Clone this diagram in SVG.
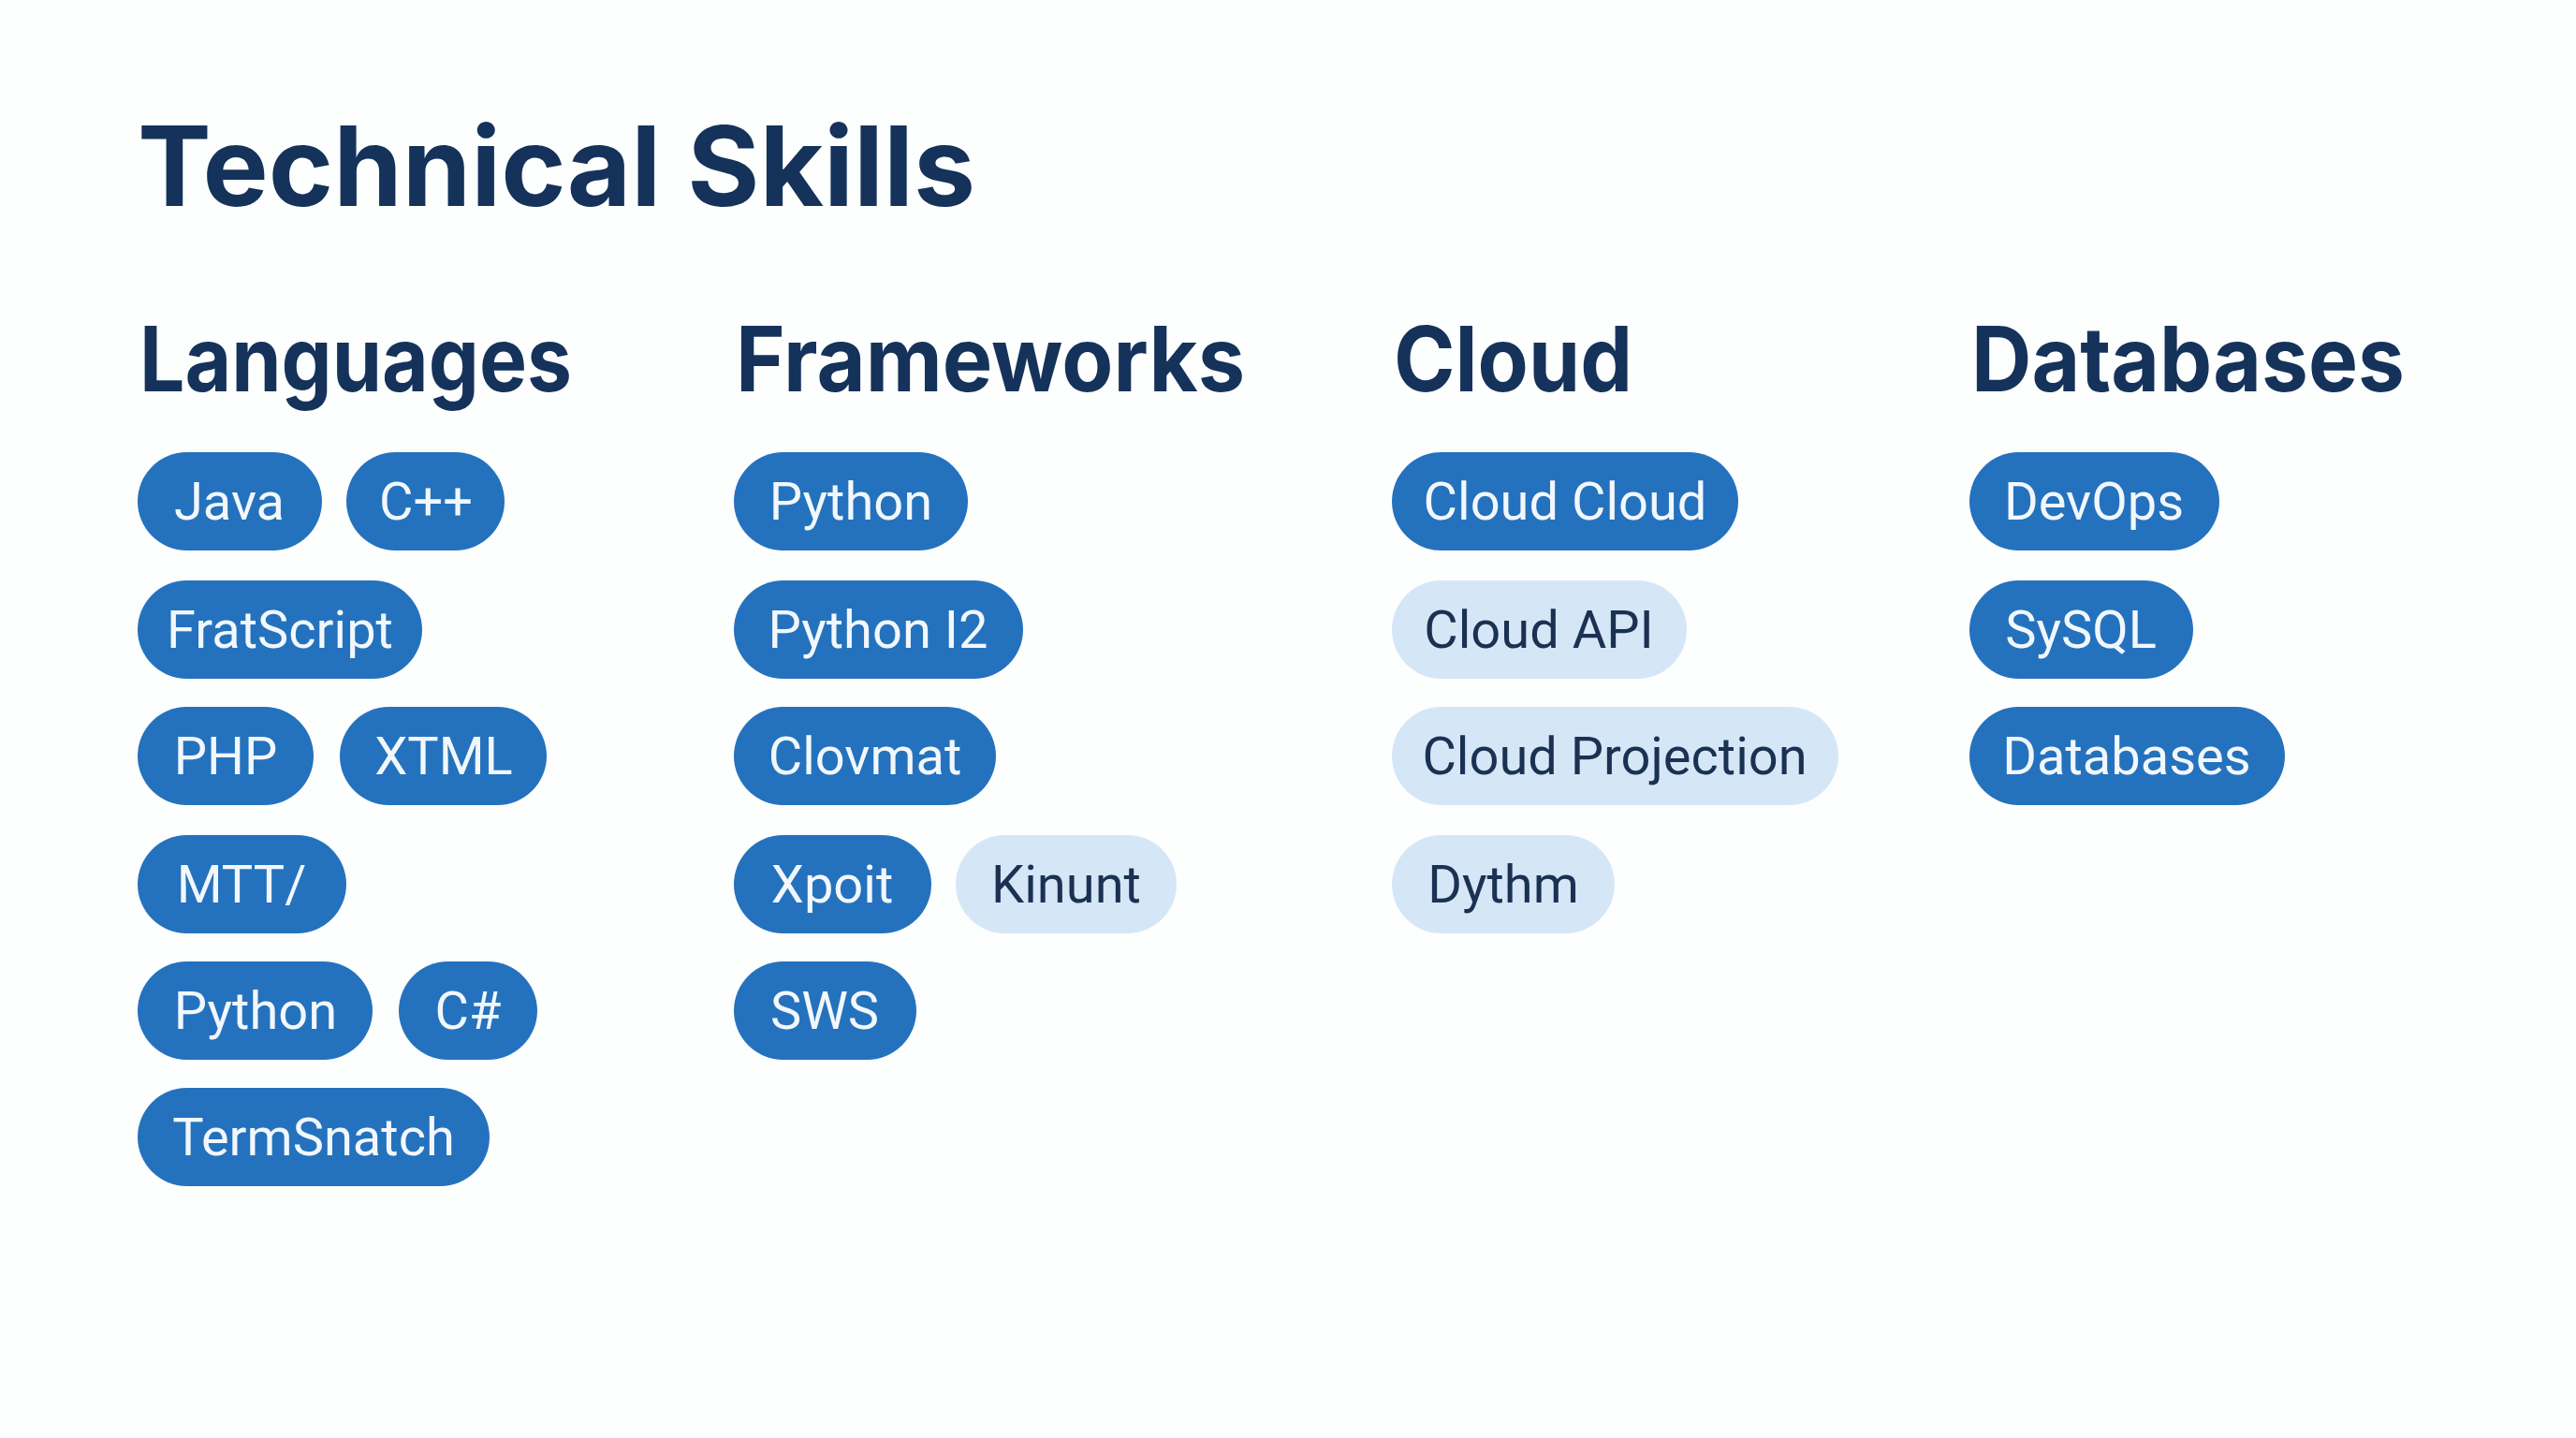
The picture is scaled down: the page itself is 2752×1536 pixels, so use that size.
<svg xmlns="http://www.w3.org/2000/svg" width="2752" height="1536" viewBox="0 0 2752 1536">
<style>
.h{font-family:Inter,"Liberation Sans",sans-serif;font-weight:700;fill:#15325A}
.d rect{fill:#2472BE}
.l rect{fill:#D5E7F7}
.d text{fill:#F2F7FC}
.l text{fill:#1B3152}
text.p{font-family:Roboto,"Liberation Sans",sans-serif;font-size:56px;text-anchor:middle}
</style>
<rect width="2752" height="1536" fill="#FDFEFE"/>
<text class="h" x="147" y="220" font-size="118" textLength="895" lengthAdjust="spacingAndGlyphs">Technical Skills</text>
<text class="h" x="149" y="418" font-size="96" textLength="462" lengthAdjust="spacingAndGlyphs">Languages</text>
<text class="h" x="786" y="418" font-size="96" textLength="544" lengthAdjust="spacingAndGlyphs">Frameworks</text>
<text class="h" x="1489" y="418" font-size="96" textLength="255" lengthAdjust="spacingAndGlyphs">Cloud</text>
<text class="h" x="2106" y="418" font-size="96" textLength="463" lengthAdjust="spacingAndGlyphs">Databases</text>
<g id="java" class="d"><rect x="147" y="483" width="197" height="105" rx="52.5"/><text class="p" x="245" y="555">Java</text></g>
<g id="cpp" class="d"><rect x="370" y="483" width="169" height="105" rx="52.5"/><text class="p" x="455" y="555">C++</text></g>
<g id="fratscript" class="d"><rect x="147" y="620" width="304" height="105" rx="52.5"/><text class="p" x="299" y="692">FratScript</text></g>
<g id="php" class="d"><rect x="147" y="755" width="188" height="105" rx="52.5"/><text class="p" x="241" y="827">PHP</text></g>
<g id="xtml" class="d"><rect x="363" y="755" width="221" height="105" rx="52.5"/><text class="p" x="474" y="827">XTML</text></g>
<g id="mtt" class="d"><rect x="147" y="892" width="223" height="105" rx="52.5"/><text class="p" x="258" y="964">MTT/</text></g>
<g id="python1" class="d"><rect x="147" y="1027" width="251" height="105" rx="52.5"/><text class="p" x="273" y="1099">Python</text></g>
<g id="csharp" class="d"><rect x="426" y="1027" width="148" height="105" rx="52.5"/><text class="p" x="500" y="1099">C#</text></g>
<g id="termsnatch" class="d"><rect x="147" y="1162" width="376" height="105" rx="52.5"/><text class="p" x="335" y="1234">TermSnatch</text></g>
<g id="python2" class="d"><rect x="784" y="483" width="250" height="105" rx="52.5"/><text class="p" x="909" y="555">Python</text></g>
<g id="pythoni2" class="d"><rect x="784" y="620" width="309" height="105" rx="52.5"/><text class="p" x="938" y="692">Python I2</text></g>
<g id="clovmat" class="d"><rect x="784" y="755" width="280" height="105" rx="52.5"/><text class="p" x="924" y="827">Clovmat</text></g>
<g id="xpoit" class="d"><rect x="784" y="892" width="211" height="105" rx="52.5"/><text class="p" x="889" y="964">Xpoit</text></g>
<g id="kinunt" class="l"><rect x="1021" y="892" width="236" height="105" rx="52.5"/><text class="p" x="1139" y="964">Kinunt</text></g>
<g id="sws" class="d"><rect x="784" y="1027" width="195" height="105" rx="52.5"/><text class="p" x="881" y="1099">SWS</text></g>
<g id="cloudcloud" class="d"><rect x="1487" y="483" width="370" height="105" rx="52.5"/><text class="p" x="1672" y="555">Cloud Cloud</text></g>
<g id="cloudapi" class="l"><rect x="1487" y="620" width="315" height="105" rx="52.5"/><text class="p" x="1644" y="692">Cloud API</text></g>
<g id="cloudprojection" class="l"><rect x="1487" y="755" width="477" height="105" rx="52.5"/><text class="p" x="1725" y="827">Cloud Projection</text></g>
<g id="dythm" class="l"><rect x="1487" y="892" width="238" height="105" rx="52.5"/><text class="p" x="1606" y="964">Dythm</text></g>
<g id="devops" class="d"><rect x="2104" y="483" width="267" height="105" rx="52.5"/><text class="p" x="2237" y="555">DevOps</text></g>
<g id="sysql" class="d"><rect x="2104" y="620" width="239" height="105" rx="52.5"/><text class="p" x="2223" y="692">SySQL</text></g>
<g id="databases" class="d"><rect x="2104" y="755" width="337" height="105" rx="52.5"/><text class="p" x="2272" y="827">Databases</text></g>
<g id="connectors"/>
</svg>
